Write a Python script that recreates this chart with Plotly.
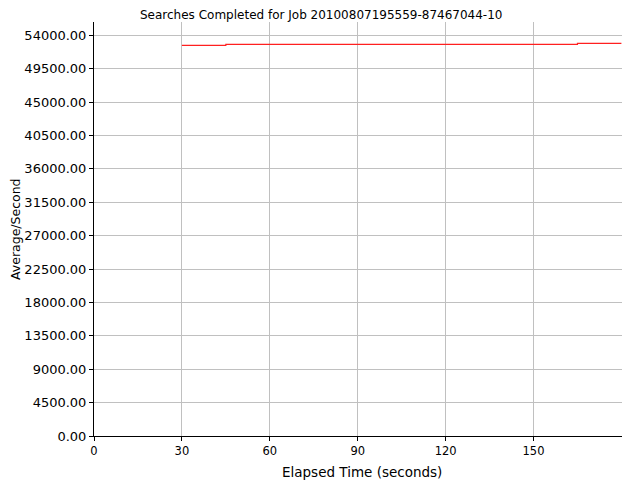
import plotly.graph_objects as go

# elapsed time (s) and searches per second
elapsed = [30, 45, 60, 75, 90, 105, 120, 135, 150, 165, 180]
avg_per_sec = [52650, 52785, 52785, 52785, 52785, 52785, 52785, 52785, 52785, 52920, 52920]

y_ticks = [i * 4500 for i in range(13)]
x_ticks = [0, 30, 60, 90, 120, 150]

font = "DejaVu Sans"

fig = go.Figure()
fig.add_trace(go.Scatter(
    x=elapsed, y=avg_per_sec, mode="lines",
    line=dict(color="#ff2020", width=1.2, shape="hv"),
    showlegend=False,
))

# the page body adds an 8px offset, margins allow for it
fig.update_layout(
    width=640, height=480,
    margin=dict(l=86, r=26, t=14, b=52, autoexpand=False),
    paper_bgcolor="white", plot_bgcolor="white",
    font=dict(family=font, size=12, color="black"),
    xaxis=dict(
        range=[0, 180.2], tickvals=x_ticks,
        tickfont=dict(size=11.5),
        showgrid=True, gridcolor="#c0c0c0", gridwidth=1,
        showline=True, linecolor="black", linewidth=1,
        ticks="outside", ticklen=4, tickcolor="black",
        zeroline=False, automargin=False,
    ),
    yaxis=dict(
        range=[0, 55800], tickvals=y_ticks, tickformat=".2f",
        tickfont=dict(size=13),
        showgrid=True, gridcolor="#c0c0c0", gridwidth=1,
        showline=True, linecolor="black", linewidth=1,
        ticks="outside", ticklen=4, tickcolor="black",
        zeroline=False, automargin=False,
    ),
)

fig.add_annotation(text="Searches Completed for Job 20100807195559-87467044-10",
                   xref="paper", yref="paper", x=0.5, y=1, xanchor="center",
                   yanchor="middle", xshift=-37, yshift=7, showarrow=False,
                   font=dict(size=12))
fig.add_annotation(text="Elapsed Time (seconds)",
                   xref="paper", yref="paper", x=0.5, y=0, xanchor="center",
                   yanchor="middle", xshift=4, yshift=-36, showarrow=False,
                   font=dict(size=13.5))
fig.add_annotation(text="Average/Second", textangle=-90,
                   xref="paper", yref="paper", x=0, y=0.5, xanchor="center",
                   yanchor="middle", xshift=-79, showarrow=False,
                   font=dict(size=12.5))

fig.write_html("out.html")
